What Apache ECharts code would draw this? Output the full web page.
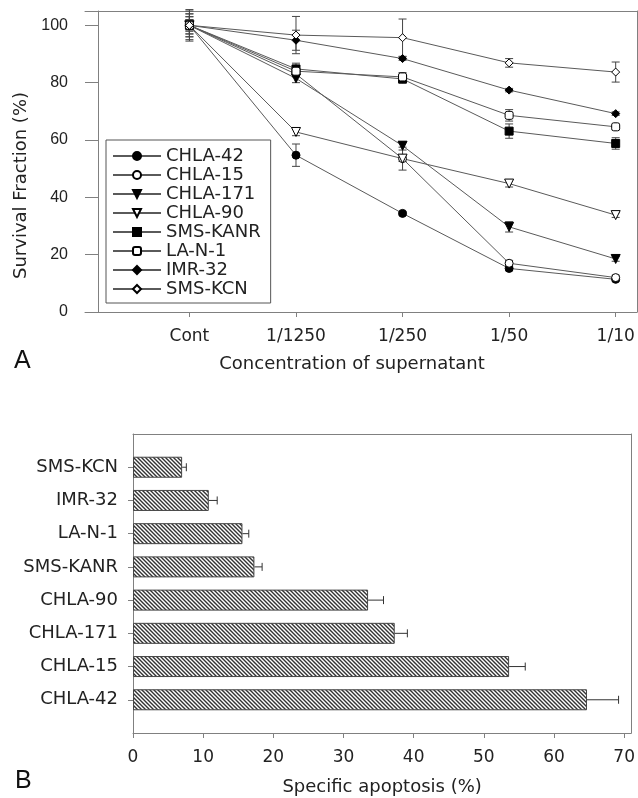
<!DOCTYPE html>
<html>
<head>
<meta charset="utf-8">
<title>Survival fraction and specific apoptosis</title>
<script src="https://cdn.jsdelivr.net/npm/echarts@6/dist/echarts.min.js"></script>
<style>
  html, body { margin: 0; padding: 0; background: #fff; }
  #chart { width: 638px; height: 798px; }
</style>
</head>
<body>
<div id="chart"></div>
<script>
// panel A - survival fraction by supernatant concentration
var concLabels = ['Cont', '1/1250', '1/250', '1/50', '1/10'];
var survTicks = [0, 20, 40, 60, 80, 100];
var cellLines = ['CHLA-42', 'CHLA-15', 'CHLA-171', 'CHLA-90', 'SMS-KANR', 'LA-N-1', 'IMR-32', 'SMS-KCN'];

var survCHLA42 = [100, 54.7, 34.4, 15.2, 11.4];
var survCHLA15 = [100, 83.0, 53.5, 17.0, 12.0];
var survCHLA171 = [100, 81.5, 58.0, 29.7, 18.5];
var survCHLA90 = [100, 62.8, 53.5, 44.8, 33.8];
var survSMSKANR = [100, 84.8, 81.3, 63.1, 58.8];
var survLAN1 = [100, 84.0, 82.0, 68.6, 64.6];
var survIMR32 = [100, 94.8, 88.4, 77.4, 69.2];
var survSMSKCN = [100, 96.6, 95.7, 86.9, 83.7];

var errCHLA42 = [5.5, 3.9, 0.6, 0.8, 0.6];
var errCHLA15 = [4, 1, 1, 1, 0.8];
var errCHLA171 = [3, 1.5, 1.5, 1.8, 0.8];
var errCHLA90 = [2, 1.3, 4, 1.2, 0.8];
var errSMSKANR = [5, 2, 1.5, 2.5, 2];
var errLAN1 = [3, 1, 1.5, 2, 0.8];
var errIMR32 = [2, 3.5, 0.6, 0.6, 0.6];
var errSMSKCN = [4, 6.5, 6.5, 1.5, 3.5];

// panel B - specific apoptosis (same cell line order, bottom to top)
var apopTicks = [0, 10, 20, 30, 40, 50, 60, 70];
var apopMean = [64.7, 53.6, 37.3, 33.5, 17.3, 15.6, 10.8, 7.0];
var apopErr = [4.5, 2.3, 1.8, 2.2, 1.1, 0.9, 1.2, 0.6];

var survival = [survCHLA42, survCHLA15, survCHLA171, survCHLA90, survSMSKANR, survLAN1, survIMR32, survSMSKCN];
var survErr = [errCHLA42, errCHLA15, errCHLA171, errCHLA90, errSMSKANR, errLAN1, errIMR32, errSMSKCN];

// marker look for each line: symbol, rotation, filled or open
var markers = [
  ['circle', 0, true], ['circle', 0, false],
  ['triangle', 180, true], ['triangle', 180, false],
  ['rect', 0, true], ['roundRect', 0, false],
  ['diamond', 0, true], ['diamond', 0, false]
];

var axisGray = '#808080';
var textColor = '#222';

function hatch() {
  var c = document.createElement('canvas');
  c.width = 4; c.height = 4;
  var g = c.getContext('2d');
  g.fillStyle = '#fff';
  g.fillRect(0, 0, 4, 4);
  g.strokeStyle = '#333';
  g.lineWidth = 1.4;
  g.beginPath();
  g.moveTo(-1, -1); g.lineTo(5, 5);
  g.moveTo(-1, 3); g.lineTo(1, 5);
  g.moveTo(3, -1); g.lineTo(5, 1);
  g.stroke();
  return c;
}

function vErrorBar(params, api) {
  var x = api.value(0), y = api.value(1), e = api.value(2);
  var hi = api.coord([x, y + e]);
  var lo = api.coord([x, y - e]);
  var w = 4;
  var st = { stroke: '#444', lineWidth: 1 };
  return {
    type: 'group',
    children: [
      { type: 'line', shape: { x1: hi[0], y1: hi[1], x2: lo[0], y2: lo[1] }, style: st },
      { type: 'line', shape: { x1: hi[0] - w, y1: hi[1], x2: hi[0] + w, y2: hi[1] }, style: st },
      { type: 'line', shape: { x1: lo[0] - w, y1: lo[1], x2: lo[0] + w, y2: lo[1] }, style: st }
    ]
  };
}

function hErrorBar(params, api) {
  var m = api.value(0), idx = api.value(1), e = api.value(2);
  var a = api.coord([m, idx]);
  var b = api.coord([m + e, idx]);
  var st = { stroke: '#333', lineWidth: 1 };
  return {
    type: 'group',
    children: [
      { type: 'line', shape: { x1: a[0], y1: a[1], x2: b[0], y2: b[1] }, style: st },
      { type: 'line', shape: { x1: b[0], y1: b[1] - 4, x2: b[0], y2: b[1] + 4 }, style: st }
    ]
  };
}

var concIdx = concLabels.map(function (l, i) { return i; });

var series = [];
var errData = [];
cellLines.forEach(function (name, s) {
  var mk = markers[s];
  series.push({
    name: name,
    type: 'line',
    xAxisIndex: 0,
    yAxisIndex: 0,
    data: survival[s].map(function (v, i) { return [i, v]; }),
    symbol: mk[0],
    symbolRotate: mk[1],
    symbolSize: mk[0] === 'triangle' ? 9 : 8,
    showAllSymbol: true,
    lineStyle: { color: '#5a5a5a', width: 1 },
    itemStyle: { color: mk[2] ? '#000' : '#fff', borderColor: '#000', borderWidth: 1 },
    z: 3
  });
  survival[s].forEach(function (v, i) {
    errData.push([i, v, survErr[s][i]]);
  });
});

series.push({
  type: 'custom',
  xAxisIndex: 0,
  yAxisIndex: 0,
  renderItem: vErrorBar,
  encode: { x: 0, y: 1 },
  data: errData,
  z: 2
});

var yCats = [''].concat(cellLines).concat([' ']);

series.push({
  type: 'bar',
  xAxisIndex: 2,
  yAxisIndex: 2,
  barWidth: 21,
  data: [null].concat(apopMean).concat([null]),
  itemStyle: {
    color: { image: hatch(), repeat: 'repeat' },
    borderColor: '#444',
    borderWidth: 1
  },
  z: 2
});

series.push({
  type: 'custom',
  xAxisIndex: 2,
  yAxisIndex: 2,
  renderItem: hErrorBar,
  encode: { x: 0, y: 1 },
  data: apopMean.map(function (m, i) { return [m, i + 1, apopErr[i]]; }),
  z: 3
});

var frameAxis = {
  type: 'value',
  axisLine: { show: true, onZero: false, lineStyle: { color: axisGray } },
  axisTick: { show: false },
  axisLabel: { show: false },
  splitLine: { show: false }
};

var chart = echarts.init(document.getElementById('chart'), null, { renderer: 'canvas' });
chart.setOption({
  animation: false,
  backgroundColor: '#fff',
  grid: [
    { left: 85, right: 1, top: 11, bottom: 486 },
    { left: 133, right: 2, top: 434, bottom: 65 }
  ],
  legend: {
    data: cellLines,
    orient: 'vertical',
    left: 106,
    top: 140,
    align: 'left',
    itemWidth: 48,
    itemHeight: 10,
    itemGap: 1,
    padding: [7, 10, 5, 6],
    borderColor: '#555',
    borderWidth: 1,
    backgroundColor: '#fff',
    textStyle: { fontFamily: 'DejaVu Sans', fontSize: 18, color: textColor }
  },
  xAxis: [
    {
      gridIndex: 0,
      type: 'value',
      min: -0.98,
      max: 4.2,
      axisLine: { show: true, onZero: false, lineStyle: { color: axisGray } },
      axisTick: { show: true, customValues: concIdx, length: 5, lineStyle: { color: axisGray } },
      axisLabel: {
        customValues: concIdx,
        formatter: function (v) { return concLabels[Math.round(v)]; },
        margin: 16,
        fontFamily: 'DejaVu Sans',
        fontSize: 17,
        color: textColor
      },
      splitLine: { show: false },
      name: 'Concentration of supernatant',
      nameLocation: 'middle',
      nameGap: 43,
      nameTextStyle: { fontFamily: 'DejaVu Sans', fontSize: 18, color: textColor, padding: [0, 18, 0, 0] }
    },
    Object.assign({ gridIndex: 0, position: 'top', min: -0.98, max: 4.2 }, frameAxis),
    {
      gridIndex: 1,
      type: 'value',
      min: 0,
      max: 71,
      axisLine: { show: true, onZero: false, lineStyle: { color: axisGray } },
      axisTick: { show: true, customValues: apopTicks, length: 5, lineStyle: { color: axisGray } },
      axisLabel: {
        customValues: apopTicks,
        margin: 16,
        fontFamily: 'DejaVu Sans',
        fontSize: 17,
        color: textColor
      },
      splitLine: { show: false },
      name: 'Specific apoptosis (%)',
      nameLocation: 'middle',
      nameGap: 45,
      nameTextStyle: { fontFamily: 'DejaVu Sans', fontSize: 18, color: textColor }
    },
    Object.assign({ gridIndex: 1, position: 'top', min: 0, max: 71 }, frameAxis)
  ],
  yAxis: [
    {
      gridIndex: 0,
      type: 'value',
      min: 0,
      max: 105,
      offset: -13,
      axisLine: { show: true, onZero: false, lineStyle: { color: axisGray } },
      axisTick: { show: true, customValues: survTicks, length: 13, lineStyle: { color: axisGray } },
      axisLabel: {
        customValues: survTicks,
        margin: 30,
        fontFamily: 'Liberation Sans',
        fontSize: 16,
        color: textColor
      },
      splitLine: { show: false },
      name: 'Survival Fraction (%)',
      nameLocation: 'middle',
      nameGap: 62,
      nameTextStyle: { fontFamily: 'DejaVu Sans', fontSize: 18, color: textColor, padding: [0, 48, 0, 0] }
    },
    Object.assign({ gridIndex: 0, position: 'right', min: 0, max: 105 }, frameAxis),
    {
      gridIndex: 1,
      type: 'category',
      data: yCats,
      boundaryGap: false,
      axisLine: { show: true, onZero: false, lineStyle: { color: axisGray } },
      axisTick: {
        show: true,
        length: 5,
        interval: function (idx) { return idx > 0 && idx < yCats.length - 1; },
        lineStyle: { color: axisGray }
      },
      axisLabel: {
        interval: 0,
        margin: 15,
        fontFamily: 'DejaVu Sans',
        fontSize: 18,
        color: textColor
      },
      splitLine: { show: false }
    },
    Object.assign({ gridIndex: 1, position: 'right', min: 0, max: 1 }, frameAxis)
  ],
  graphic: [
    { type: 'text', left: 14, top: 349, style: { text: 'A', font: '25px "Liberation Sans"', fill: '#111' } },
    { type: 'text', left: 15, top: 769, style: { text: 'B', font: '25px "Liberation Sans"', fill: '#111' } }
  ],
  series: series
});
</script>
</body>
</html>
